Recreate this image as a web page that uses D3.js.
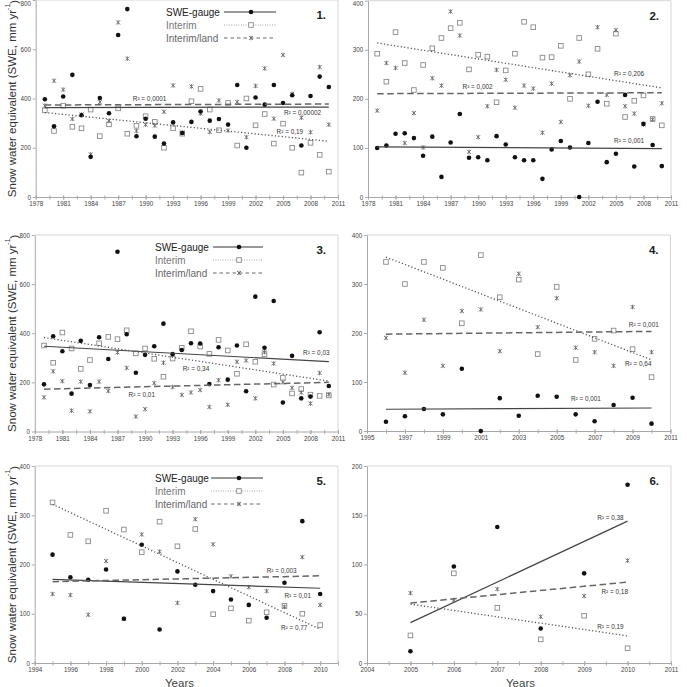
<!DOCTYPE html>
<html><head><meta charset="utf-8">
<script src="https://cdn.jsdelivr.net/npm/d3@7"></script>
<style>
body{margin:0;background:#fff}
svg{display:block}
text{font-family:"Liberation Sans",Arial,sans-serif}
</style>
</head><body>
<svg id="c" width="687" height="687"></svg>
<script>
// ---------------- DATA ----------------
const seriesNames = ["SWE-gauge", "Interim", "Interim/land"];

const yearsA = [1979,1980,1981,1982,1983,1984,1985,1986,1987,1988,1989,1990,1991,1992,1993,1994,1995,1996,1997,1998,1999,2000,2001,2002,2003,2004,2005,2006,2007,2008,2009,2010];
const yearsB = [1996,1997,1998,1999,2000,2001,2002,2003,2004,2005,2006,2007,2008,2009,2010];
const yearsC = [1995,1996,1997,1998,1999,2000,2001,2002,2003,2004,2005,2006,2007,2008,2009,2010];
const yearsD = [2005,2006,2007,2008,2009,2010];

// Panel 1
const gauge1   = [397,287,408,496,332,163,402,340,658,763,247,318,245,217,303,260,305,347,310,317,294,455,200,404,375,455,382,413,209,410,489,447];
const interim1 = [352,268,371,285,279,355,247,295,360,257,289,328,305,200,279,257,389,439,355,271,382,209,400,291,337,217,298,200,99,220,171,103];
const land1    = [371,472,436,317,335,173,385,309,709,562,268,294,290,346,453,262,449,339,264,392,270,386,243,451,522,318,577,419,322,263,528,294];
// Panel 2
const gauge2   = [100,105,129,130,120,84,123,41,111,169,80,81,75,124,107,81,75,75,37,97,114,101,0,110,194,71,88,208,62,149,106,63];
const interim2 = [292,235,336,273,218,269,303,324,344,355,260,290,286,193,258,292,357,346,284,285,308,200,324,250,302,190,333,163,196,207,159,146];
const land2    = [176,273,263,110,171,101,242,227,378,329,92,122,185,259,239,182,227,221,131,231,153,248,276,186,346,208,340,185,170,148,158,191];
// Panel 3
const gauge3   = [192,388,327,154,369,189,384,295,732,396,239,312,347,439,315,332,359,358,193,343,211,350,164,549,341,531,118,308,135,142,404,185];
const interim3 = [350,280,403,338,255,291,359,385,376,412,318,338,296,223,297,341,408,346,316,373,330,235,355,284,315,191,219,155,173,150,145,147];
const land3    = [139,245,205,85,203,82,203,165,322,259,61,91,197,280,181,149,159,169,100,209,109,284,289,135,323,277,200,178,159,114,238,151];
// Panel 4
const gauge4   = [19,30,45,34,127,0,67,31,72,70,34,20,53,68,15];
const interim4 = [345,300,345,333,220,359,273,309,157,294,145,188,205,167,110];
const land4    = [190,119,227,133,245,248,163,321,212,271,170,161,133,253,161];
// Panel 5
const gauge5   = [220,174,169,190,90,240,68,186,159,146,129,118,92,163,288,140];
const interim5 = [326,260,247,309,271,225,287,237,272,99,111,86,103,116,100,77];
const land5    = [140,138,98,207,90,261,226,122,292,241,176,154,146,114,215,118];
// Panel 6
const gauge6   = [12,98,138,35,91,181];
const interim6 = [28,91,56,24,48,15];
const land6    = [71,64,75,47,68,104];

// Tick labels
const xTicksA = [1978,1981,1984,1987,1990,1993,1996,1999,2002,2005,2008,2011];
const xTicksB = [1995,1997,1999,2001,2003,2005,2007,2009,2011];
const xTicksC = [1994,1996,1998,2000,2002,2004,2006,2008,2010];
const xTicksD = [2004,2005,2006,2007,2008,2009,2010,2011];
const yTicks800 = [0,200,400,600,800];
const yTicks400 = [0,100,200,300,400];
const yTicks200 = [0,50,100,150,200];

// R² labels
const r2_1 = ["R² = 0,0001", "R² = 0,00002", "R² = 0,19"];
const r2_2 = ["R² = 0,206", "R² = 0,002", "R² = 0,001"];
const r2_3 = ["R² = 0,03", "R² = 0,34", "R² = 0,01"];
const r2_4 = ["R² = 0,001", "R² = 0,64", "R² = 0,001"];
const r2_5 = ["R² = 0,003", "R² = 0,01", "R² = 0,77"];
const r2_6 = ["R² = 0,38", "R² = 0,18", "R² = 0,19"];

const panelNames = ["1.", "2.", "3.", "4.", "5.", "6."];
const yTitle = "Snow water equivalent (SWE, mm yr";
const xTitle = "Years";

const panels = [
  {years: yearsA, gauge: gauge1, interim: interim1, land: land1, xTicks: xTicksA, yTicks: yTicks800, r2: r2_1},
  {years: yearsA, gauge: gauge2, interim: interim2, land: land2, xTicks: xTicksA, yTicks: yTicks400, r2: r2_2},
  {years: yearsA, gauge: gauge3, interim: interim3, land: land3, xTicks: xTicksA, yTicks: yTicks800, r2: r2_3},
  {years: yearsB, gauge: gauge4, interim: interim4, land: land4, xTicks: xTicksB, yTicks: yTicks400, r2: r2_4},
  {years: yearsC, gauge: gauge5, interim: interim5, land: land5, xTicks: xTicksC, yTicks: yTicks400, r2: r2_5},
  {years: yearsD, gauge: gauge6, interim: interim6, land: land6, xTicks: xTicksD, yTicks: yTicks200, r2: r2_6}
];

// ---------------- LAYOUT (positions / styles) ----------------
const layout = [
  {l:35.7, r:338, t:0,   b:197,   xDom:[1978,2011], minor:1.5, legend:{tx:166, l0:224, l1:276, m:251}, yT:true,
   r2pos:[[1988.6,398],[2005.1,341],[2004.3,264]]},
  {l:368,  r:671, t:0.7, b:197,   xDom:[1978,2011], minor:1.5,
   r2pos:[[2004.8,251],[1988.3,224],[2004.8,114]]},
  {l:34.8, r:338, t:235, b:431.5, xDom:[1978,2011], minor:1.5, legend:{tx:155, l0:213, l1:263, m:239}, yT:true,
   r2pos:[[2007.2,320],[1994.1,255],[1988.2,149]]},
  {l:367,  r:670.5, t:235, b:431, xDom:[1995,2011], minor:1,
   r2pos:[[2008.8,216],[2008.6,137],[2005.75,65]]},
  {l:34.7, r:338, t:466, b:663,   xDom:[1994,2011], minor:1, legend:{tx:155, l0:211, l1:263, m:239}, yT:true, xT:179.5,
   r2pos:[[2007.0,187],[2008.0,136],[2007.8,71]]},
  {l:367,  r:671, t:466, b:663,   xDom:[2004,2011], minor:0.5, xT:520.5,
   r2pos:[[2009.3,147],[2009.4,72],[2009.3,36.5]]}
];

const sty = {
  gauge:   {line:"#444", w:1.2, dash:null},
  interim: {line:"#555", w:1.3, dash:"1.2,2.2"},
  land:    {line:"#666", w:1.5, dash:"6.5,3.5"}
};

// ---------------- DRAW ----------------
const svg = d3.select("#c");

function regress(xs, ys) {
  const mx = d3.mean(xs), my = d3.mean(ys);
  let sxy = 0, sxx = 0;
  xs.forEach((xv, i) => { sxy += (xv - mx) * (ys[i] - my); sxx += (xv - mx) * (xv - mx); });
  const s = sxy / sxx;
  return xv => my + s * (xv - mx);
}

function drawCircle(g, cx, cy) {
  g.append("circle").attr("cx", cx).attr("cy", cy).attr("r", 2.3).attr("fill", "#111");
}
function drawSquare(g, cx, cy) {
  g.append("rect").attr("x", cx - 2.3).attr("y", cy - 2.3).attr("width", 4.6).attr("height", 4.6)
    .attr("fill", "#fff").attr("stroke", "#8a8a8a").attr("stroke-width", 0.9);
}
function drawStar(g, cx, cy) {
  g.append("path").attr("transform", `translate(${cx},${cy})`)
    .attr("d", "M-2,-2L2,2M-2,2L2,-2M0,-2.3V2.3")
    .attr("fill", "none").attr("stroke", "#6a6a6a").attr("stroke-width", 0.9);
}

panels.forEach((p, i) => {
  const L = layout[i];
  const x = d3.scaleLinear().domain(L.xDom).range([L.l, L.r]);
  const yMax = p.yTicks[p.yTicks.length - 1];
  const y = d3.scaleLinear().domain([0, yMax]).range([L.b, L.t]);
  const g = svg.append("g");

  // plot frame (top/right)
  g.append("path").attr("d", `M${L.l},${L.t}H${L.r}V${L.b}`)
    .attr("fill", "none").attr("stroke", "#d6d6d6").attr("stroke-width", 1);

  // minor x ticks
  const minorVals = d3.range(L.xDom[0], L.xDom[1] + 0.001, L.minor);
  const xMinor = g.append("g").attr("transform", `translate(0,${L.b})`)
    .call(d3.axisBottom(x).tickValues(minorVals).tickFormat("").tickSize(2.5).tickSizeOuter(0));
  xMinor.select(".domain").remove();
  xMinor.selectAll("line").attr("stroke", "#aaa").attr("y1", -1.5);

  // x axis
  const xa = g.append("g").attr("transform", `translate(0,${L.b})`)
    .call(d3.axisBottom(x).tickValues(p.xTicks).tickFormat(d3.format("d")).tickSize(2.5).tickSizeOuter(0).tickPadding(2.5));
  xa.select(".domain").attr("stroke", "#a8a8a8");
  xa.selectAll("line").attr("stroke", "#aaa").attr("y1", -1.5);
  xa.selectAll("text").attr("font-size", 6.3).attr("fill", "#444").attr("font-family", "Liberation Sans, Arial, sans-serif");

  // y axis
  const ya = g.append("g").attr("transform", `translate(${L.l},0)`)
    .call(d3.axisLeft(y).tickValues(p.yTicks).tickFormat(d3.format("d")).tickSize(3).tickSizeOuter(0).tickPadding(1.8));
  ya.select(".domain").attr("stroke", "#a8a8a8");
  ya.selectAll("line").attr("stroke", "#aaa");
  ya.selectAll("text").attr("font-size", 6.3).attr("fill", "#444").attr("font-family", "Liberation Sans, Arial, sans-serif")
    .attr("y", d => Math.max(0, 3.6 - y(d)));

  // markers
  const mg = g.append("g");
  p.years.forEach((yr, k) => drawSquare(mg, x(yr), y(p.interim[k])));
  p.years.forEach((yr, k) => drawStar(mg, x(yr), y(p.land[k])));
  p.years.forEach((yr, k) => drawCircle(mg, x(yr), y(p.gauge[k])));

  // trend lines
  const x0 = p.years[0], x1 = p.years[p.years.length - 1];
  [["gauge", p.gauge], ["interim", p.interim], ["land", p.land]].forEach(([key, vals]) => {
    const f = regress(p.years, vals);
    const s = sty[key];
    g.append("line").attr("x1", x(x0)).attr("y1", y(f(x0))).attr("x2", x(x1)).attr("y2", y(f(x1)))
      .attr("stroke", s.line).attr("stroke-width", s.w).attr("stroke-dasharray", s.dash);
  });

  // R² labels
  p.r2.forEach((txt, k) => {
    const pos = L.r2pos[k];
    g.append("text").attr("x", x(pos[0])).attr("y", y(pos[1])).attr("dy", "0.35em")
      .attr("font-size", 6.4).attr("fill", "#333").text(txt);
  });

  // panel number
  g.append("text").attr("x", L.r - 12).attr("y", L.t + 19).attr("text-anchor", "end")
    .attr("font-size", 11.5).attr("font-weight", "bold").attr("fill", "#222").text(panelNames[i]);

  // legend
  if (L.legend) {
    const lg = g.append("g");
    const rows = [L.t + 12, L.t + 25, L.t + 38];
    const txtCol = ["#222", "#777", "#666"];
    seriesNames.forEach((nm, k) => {
      lg.append("text").attr("x", L.legend.tx).attr("y", rows[k]).attr("dy", "0.35em")
        .attr("font-size", 10).attr("fill", txtCol[k]).text(nm);
    });
    lg.append("line").attr("x1", L.legend.l0).attr("x2", L.legend.l1).attr("y1", rows[0]).attr("y2", rows[0])
      .attr("stroke", "#333").attr("stroke-width", 1);
    lg.append("line").attr("x1", L.legend.l0).attr("x2", L.legend.l1).attr("y1", rows[1]).attr("y2", rows[1])
      .attr("stroke", "#999").attr("stroke-width", 0.9).attr("stroke-dasharray", "1,1.4");
    lg.append("line").attr("x1", L.legend.l0).attr("x2", L.legend.l1).attr("y1", rows[2]).attr("y2", rows[2])
      .attr("stroke", "#666").attr("stroke-width", 1).attr("stroke-dasharray", "3.5,3");
    drawCircle(lg, L.legend.m, rows[0]);
    drawSquare(lg, L.legend.m, rows[1]);
    drawStar(lg, L.legend.m, rows[2]);
  }

  // y title
  if (L.yT) {
    const cy = (L.t + L.b) / 2;
    const t = g.append("text").attr("transform", `translate(12,${cy}) rotate(-90)`)
      .attr("text-anchor", "middle").attr("dy", "0.35em").attr("font-size", 11.5).attr("fill", "#333");
    t.append("tspan").text(yTitle);
    t.append("tspan").attr("font-size", 7).attr("dy", "-0.9em").text("-1");
    t.append("tspan").attr("dy", "0.75em").text(")");
  }
  // x title
  if (L.xT) {
    g.append("text").attr("x", L.xT).attr("y", 686.5).attr("text-anchor", "middle")
      .attr("font-size", 11.5).attr("fill", "#444").text(xTitle);
  }
});
</script>
</body></html>
